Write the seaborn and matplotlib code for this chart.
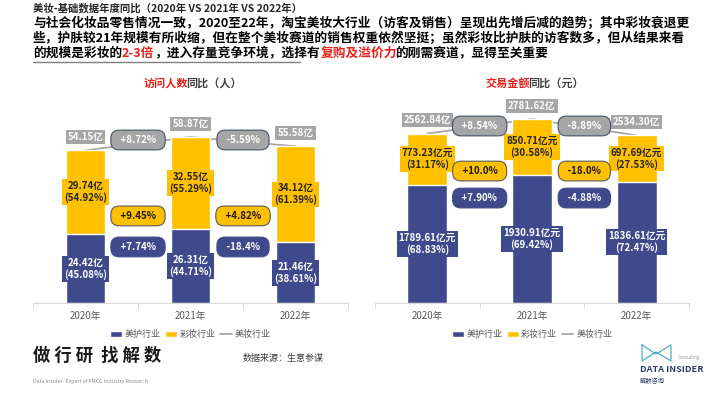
import matplotlib
matplotlib.use('Agg')
import matplotlib.pyplot as plt
import matplotlib.transforms as mtransforms
from matplotlib.lines import Line2D
from matplotlib.patches import Patch
import numpy as np
import pandas as pd
import seaborn as sns

# ---- data ----
years = ['2020年', '2021年', '2022年']

visit_care = [24.42, 26.31, 21.46]
visit_makeup = [29.74, 32.55, 34.12]
visit_total = [54.15, 58.87, 55.58]
visit_care_pct = ['45.08%', '44.71%', '38.61%']
visit_makeup_pct = ['54.92%', '55.29%', '61.39%']
visit_total_growth = ['+8.72%', '-5.59%']
visit_makeup_growth = ['+9.45%', '+4.82%']
visit_care_growth = ['+7.74%', '-18.4%']

sales_care = [1789.61, 1930.91, 1836.61]
sales_makeup = [773.23, 850.71, 697.69]
sales_total = [2562.84, 2781.62, 2534.30]
sales_care_pct = ['68.83%', '69.42%', '72.47%']
sales_makeup_pct = ['31.17%', '30.58%', '27.53%']
sales_total_growth = ['+8.54%', '-8.89%']
sales_makeup_growth = ['+10.0%', '-18.0%']
sales_care_growth = ['+7.90%', '-4.88%']

legend_labels = ['美护行业', '彩妆行业', '美妆行业']

BLUE = '#3F4A8C'
YELLOW = '#FFC000'
GRAY = '#A6A6A6'
LINE_GRAY = '#A5A5A5'
RED = '#E8201A'

W, H = 710, 399

sns.set_style('white')
plt.rcParams['font.family'] = ['Noto Sans CJK SC', 'DejaVu Sans']

fig = plt.figure(figsize=(W / 100, H / 100), dpi=100)

# small scratch canvas: at small sizes the drawn glyphs sit tighter than
# get_window_extent says, so find the real ink columns by drawing
probe = plt.figure(figsize=(8, 0.5), dpi=100)


def ink_cols(s, **kw):
    t = probe.text(10 / 800, 0.5, s, va='center', ha='left', color='black', **kw)
    probe.canvas.draw()
    buf = np.asarray(probe.canvas.buffer_rgba())
    cols = np.where((buf[:, :, :3] < 200).any(axis=(0, 2)))[0] - 10
    t.remove()
    return cols


def rich_text(x, y, parts, center=False, **kw):
    # coloured pieces of one line, each put where its ink sits in the whole line
    full = ''.join(s for s, _ in parts)
    if center:
        c = ink_cols(full, **kw)
        x = x - (c.min() + c.max()) / 2
    x = round(x)
    prefix = ''
    prev_end = -1
    for s, col in parts:
        cols = ink_cols(prefix + s, **kw)
        start_full = cols[cols > prev_end].min()
        start_alone = ink_cols(s, **kw).min()
        fig.text((x + start_full - start_alone) / W, 1 - y / H, s, color=col,
                 va='center', ha='left', **kw)
        prefix += s
        prev_end = cols.max()


def draw_panel(ax, care, makeup, total, care_pct, makeup_pct, tot_g, mk_g, cr_g,
               seg_unit, ymax, pill_y):
    df = pd.DataFrame({'year': years, 'care': care,
                       'stack': np.add(care, makeup), 'total': total})
    sns.barplot(data=df, x='year', y='stack', color=YELLOW, saturation=1,
                width=0.38, ax=ax, zorder=2)
    sns.barplot(data=df, x='year', y='care', color=BLUE, saturation=1,
                width=0.38, ax=ax, zorder=2)
    sns.lineplot(x=np.arange(len(years)), y=df['total'].values, color=LINE_GRAY,
                 lw=1.3, ax=ax, zorder=1)

    for i in range(len(years)):
        ax.text(i, care[i] / 2, f'{care[i]:.2f}{seg_unit}\n({care_pct[i]})',
                ha='center', va='center', color='white', fontsize=7,
                fontweight='bold', linespacing=1.15, zorder=5,
                bbox=dict(boxstyle='square,pad=0.2', fc=BLUE, ec='none'))
        ax.text(i, care[i] + makeup[i] / 2,
                f'{makeup[i]:.2f}{seg_unit}\n({makeup_pct[i]})',
                ha='center', va='center', color='#262626', fontsize=7,
                fontweight='bold', linespacing=1.15, zorder=5,
                bbox=dict(boxstyle='square,pad=0.2', fc=YELLOW, ec='none'))
        ax.annotate(f'{total[i]:.2f}亿', (i, total[i]), xytext=(0, 9.5),
                    textcoords='offset points', ha='center', va='center',
                    color='white', fontsize=7, fontweight='bold', zorder=5,
                    bbox=dict(boxstyle='square,pad=0.2', fc=GRAY, ec='none'))

    trans = mtransforms.blended_transform_factory(ax.transData, ax.transAxes)
    styles = [(tot_g, GRAY, '#44546A', 'white'),
              (mk_g, YELLOW, '#595959', '#1a1a1a'),
              (cr_g, BLUE, BLUE, 'white')]
    for (labels, fc, ec, tc), yy in zip(styles, pill_y):
        for j, g in enumerate(labels):
            ax.text(j + 0.5, yy, f'  {g}  ', transform=trans, ha='center',
                    va='center', color=tc, fontsize=7, fontweight='bold', zorder=6,
                    bbox=dict(boxstyle='round,pad=0.5,rounding_size=0.85',
                              fc=fc, ec=ec, lw=0.8))

    ax.set_xlim(-0.5, 2.5)
    ax.set_ylim(0, ymax)
    ax.set_yticks([])
    ax.set_xlabel('')
    ax.set_ylabel('')
    for s in ['top', 'right', 'left']:
        ax.spines[s].set_visible(False)
    ax.spines['bottom'].set_color('#D9D9D9')
    ax.set_xticks([-0.5, 0.5, 1.5, 2.5], minor=True)
    ax.tick_params(axis='x', which='major', length=0, labelsize=7,
                   labelcolor='#595959', pad=6)
    ax.tick_params(axis='x', which='minor', length=4, color='#D9D9D9',
                   bottom=True)

    handles = [Patch(facecolor=BLUE), Patch(facecolor=YELLOW),
               Line2D([], [], color=LINE_GRAY, lw=1.3)]
    leg = ax.legend(handles, legend_labels, loc='center',
                    bbox_to_anchor=(0.5, -0.155), ncol=3, frameon=False,
                    fontsize=6.5, handlelength=1.3, handleheight=0.6,
                    columnspacing=0.5, handletextpad=0.3)
    for t in leg.get_texts():
        t.set_color('#595959')


ax1 = fig.add_axes([33 / W, 1 - 303 / H, 315 / W, 203 / H])
ax2 = fig.add_axes([375 / W, 1 - 303 / H, 314 / W, 203 / H])

draw_panel(ax1, visit_care, visit_makeup, visit_total, visit_care_pct,
           visit_makeup_pct, visit_total_growth, visit_makeup_growth,
           visit_care_growth, '亿', 72.0, [0.803, 0.429, 0.276])
draw_panel(ax2, sales_care, sales_makeup, sales_total, sales_care_pct,
           sales_makeup_pct, sales_total_growth, sales_makeup_growth,
           sales_care_growth, '亿元', 3070, [0.872, 0.650, 0.517])

# ---- panel titles ----
rich_text(190, 83, [('访问人数', RED), ('同比（人）', '#404040')],
          center=True, fontsize=8, fontweight='bold')
rich_text(532, 83, [('交易金额', RED), ('同比（元）', '#404040')],
          center=True, fontsize=8, fontweight='bold')

# ---- header ----
fig.text(33 / W, 1 - 8 / H, '美妆-基础数据年度同比（2020年 VS 2021年 VS 2022年）',
         fontsize=7.5, fontweight='bold', color='#262626', va='center')
hdr = dict(fontsize=9.15, fontweight='bold')
rich_text(33, 23, [('与社会化妆品零售情况一致，2020至22年，淘宝美妆大行业（访客及销售）'
                    '呈现出先增后减的趋势；其中彩妆衰退更', '#000000')], **hdr)
rich_text(33, 38, [('些，护肤较21年规模有所收缩，但在整个美妆赛道的销售权重依然坚挺；'
                    '虽然彩妆比护肤的访客数多，但从结果来看', '#000000')], **hdr)
rich_text(33, 53, [('的规模是彩妆的', '#000000'), ('2-3倍', RED),
                   ('，进入存量竞争环境，选择有', '#000000'), ('复购及溢价力', RED),
                   ('的刚需赛道，显得至关重要', '#000000')], **hdr)
fig.add_artist(Line2D([33 / W, 300 / W], [1 - 62 / H, 1 - 62 / H],
                      color='#7F7F7F', lw=1))

# ---- footer ----
fig.text(33 / W, 1 - 356 / H, '做 行 研  找 解 数', fontsize=12.5,
         fontweight='bold', color='#1a1a1a', va='center')
fig.text(33 / W, 1 - 381 / H, 'Data Insider- Expert of FMCG Industry Research',
         fontsize=3.8, color='#8C8C8C', va='center')
fig.text(243 / W, 1 - 358 / H, '数据来源：生意参谋', fontsize=6.5,
         color='#404040', va='center')

# logo
lx = np.array([642, 642, 656, 671, 671, 656, 642]) / W
ly = 1 - np.array([345, 361, 352, 361, 345, 354, 345]) / H
fig.add_artist(Line2D(lx, ly, color='#4BACC6', lw=0.9))
fig.text(700 / W, 1 - 358 / H, 'Consulting', fontsize=3.2, color='#999999',
         ha='right', va='center')
fig.text(640 / W, 1 - 369 / H, 'DATA INSIDER', fontsize=6.6, fontweight='bold',
         color='#2F3B6E', va='center')
fig.text(640 / W, 1 - 381 / H, '解数咨询', fontsize=4.5, color='#2F3B6E',
         va='center')

plt.close(probe)
fig.savefig('out.png', dpi=100)
